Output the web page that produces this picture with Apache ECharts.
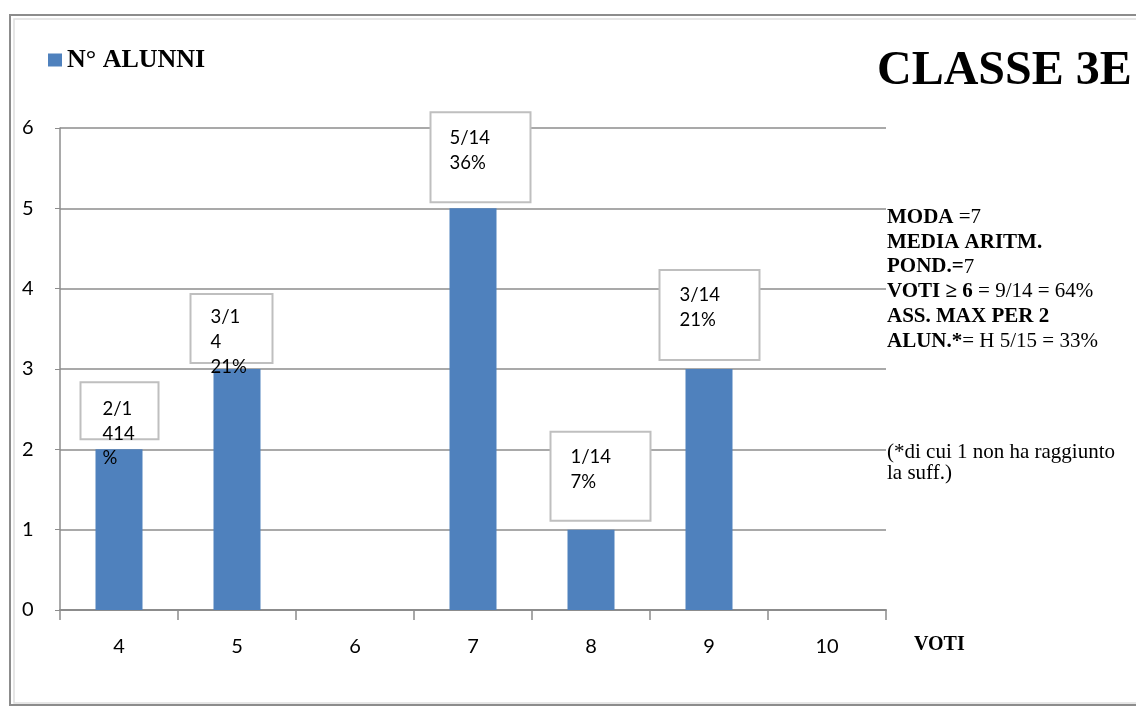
<!DOCTYPE html>
<html>
<head>
    <meta charset="UTF-8">
    <title>CLASSE 3E</title>
    <script src="https://cdn.jsdelivr.net/npm/echarts@6/dist/echarts.min.js"></script>
</head>
<body style="margin:0;background:#fff;">
<div id="main" style="width: 1136px;height:708px;"></div>
<script type="text/javascript">
    // dati del grafico
    var voti = ['4', '5', '6', '7', '8', '9', '10'];
    var alunni = [2, 3, 0, 5, 1, 3, 0];
    var etichette = ['2/1\n414\n%', '3/1\n4\n21%', '', '5/14\n36%', '1/14\n7%', '3/14\n21%', ''];
    var yTicks = [0, 1, 2, 3, 4, 5, 6];

    // posizione dei riquadri rispetto alla barra (dx, dy, larghezza, altezza, padding)
    var box = [
        {dx: -14, dy: -66, w: 76, h: 55, pt: 13, pl: 21},
        {dx: -22, dy: -74, w: 80, h: 67, pt: 10, pl: 19},
        null,
        {dx: -18, dy: -95, w: 98, h: 88, pt: 12, pl: 18},
        {dx: -16, dy: -97, w: 98, h: 87, pt: 12, pl: 19},
        {dx: -25, dy: -98, w: 98, h: 88, pt: 12, pl: 19},
        null
    ];

    var data = alunni.map(function (v, i) {
        var b = box[i];
        if (!b || !etichette[i]) {
            return {value: v, label: {show: false}};
        }
        return {
            value: v,
            label: {
                show: true,
                formatter: etichette[i],
                position: [b.dx, b.dy],
                width: b.w - b.pl - 4,
                height: b.h - b.pt - 4,
                padding: [b.pt, 4, 4, b.pl]
            }
        };
    });

    var myChart = echarts.init(document.getElementById('main'));
    var serif = '"Liberation Serif", "DejaVu Serif", serif';
    var sans = 'Lato, "Noto Sans", sans-serif';

    var option = {
        backgroundColor: '#ffffff',
        animation: false,
        graphic: [
            {type: 'rect', shape: {x: 10, y: 15, width: 1140, height: 690},
                style: {fill: 'none', stroke: '#8c8c8c', lineWidth: 2}},
            {type: 'rect', shape: {x: 14, y: 19, width: 1130, height: 684},
                style: {fill: 'none', stroke: '#dedede', lineWidth: 1.5}}
        ],
        title: [
            {
                text: 'CLASSE 3E', left: 877, top: 48, padding: 0,
                textStyle: {fontFamily: serif, fontWeight: 'bold', fontSize: 48, color: '#000'}
            },
            {
                text: '{b|MODA} {n|=7}\n{b|MEDIA ARITM.}\n{b|POND.=}{n|7}\n{b|VOTI ≥ 6} {n|= 9/14 = 64%}\n{b|ASS. MAX PER 2}\n{b|ALUN.*}{n|= H 5/15 = 33%}',
                left: 887, top: 205, padding: 0,
                textStyle: {
                    fontFamily: serif, fontSize: 21, fontWeight: 'normal', lineHeight: 24.8, color: '#000',
                    rich: {
                        b: {fontFamily: serif, fontSize: 21, fontWeight: 'bold', lineHeight: 24.8, color: '#000'},
                        n: {fontFamily: serif, fontSize: 21, fontWeight: 'normal', lineHeight: 24.8, color: '#000'}
                    }
                }
            },
            {
                text: '(*di cui 1 non ha raggiunto\nla suff.)',
                left: 887, top: 442, padding: 0,
                textStyle: {fontFamily: serif, fontSize: 21, fontWeight: 'normal', lineHeight: 21, color: '#000'}
            },
            {
                text: 'VOTI', left: 914, top: 635, padding: 0,
                textStyle: {fontFamily: serif, fontSize: 20, fontWeight: 'bold', color: '#000'}
            }
        ],
        legend: {
            data: ['N° ALUNNI'],
            left: 48,
            top: 47,
            padding: 0,
            icon: 'rect',
            itemWidth: 14,
            itemHeight: 13,
            textStyle: {fontFamily: serif, fontSize: 26, fontWeight: 'bold', color: '#000'}
        },
        grid: {left: 60, right: 250, top: 128, bottom: 98, containLabel: false},
        xAxis: {
            type: 'category',
            data: voti,
            axisLine: {lineStyle: {color: '#8c8c8c', width: 2}},
            axisTick: {show: true, length: 10, lineStyle: {color: '#8c8c8c', width: 1.5}},
            axisLabel: {margin: 27, fontFamily: sans, fontSize: 20, color: '#000'}
        },
        yAxis: {
            type: 'value',
            min: yTicks[0],
            max: yTicks[yTicks.length - 1],
            interval: 1,
            axisLine: {show: true, lineStyle: {color: '#8c8c8c', width: 1.5}},
            axisTick: {show: true, length: 5, lineStyle: {color: '#8c8c8c'}},
            splitLine: {lineStyle: {color: '#8c8c8c', width: 1.5}},
            axisLabel: {margin: 38, align: 'left', fontFamily: sans, fontSize: 20, color: '#000'}
        },
        series: [
            {
                name: 'N° ALUNNI',
                type: 'bar',
                barWidth: 47,
                itemStyle: {color: '#4f81bd'},
                label: {
                    fontFamily: sans,
                    fontSize: 18.5,
                    lineHeight: 24.8,
                    color: '#000',
                    align: 'left',
                    verticalAlign: 'top',
                    backgroundColor: '#ffffff',
                    borderColor: '#bfbfbf',
                    borderWidth: 2
                },
                data: data
            }
        ]
    };

    myChart.setOption(option);
</script>
</body>
</html>
